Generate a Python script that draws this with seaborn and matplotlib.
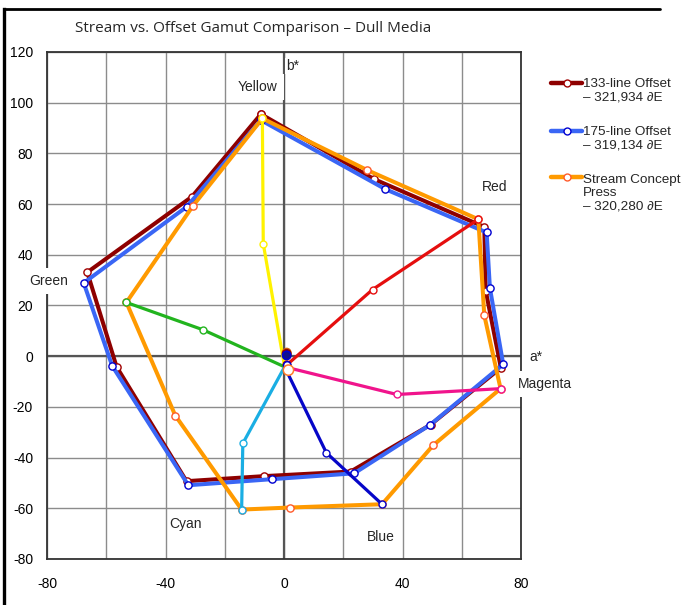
import matplotlib
matplotlib.use("Agg")
import matplotlib.pyplot as plt
from matplotlib.lines import Line2D
from matplotlib.legend_handler import HandlerLine2D
import seaborn as sns
import numpy as np
import pandas as pd

# ---- gamut outlines (a*, b*), closed back to the first vertex when drawn ----
offset133_a = [-7.8, -31.1, -66.4, -56.5, -32.9, -6.6, 22.5, 49.5, 73.2, 68.1, 67.6, 30.5]
offset133_b = [95.5, 62.9, 33.1, -4.2, -49.3, -47.3, -45.5, -27.0, -4.6, 25.8, 51.0, 69.8]

offset175_a = [-7.8, -32.9, -67.6, -58.0, -32.3, -3.9, 23.7, 49.3, 74.0, 69.5, 68.4, 34.2]
offset175_b = [93.1, 58.9, 28.9, -3.8, -50.9, -48.5, -46.2, -27.1, -3.2, 26.9, 48.8, 65.9]

stream_a = [-7.3, -30.8, -53.2, -36.7, -14.3, 1.9, 33.1, 50.3, 73.1, 67.6, 65.6, 28.1]
stream_b = [93.8, 59.2, 21.2, -23.4, -60.5, -59.7, -58.4, -35.2, -12.8, 16.2, 54.0, 73.4]

# ---- hue ramps of the Stream press: paper -> 50% -> 100% ----
paper_a, paper_b = 0.2, -4.2
ramp_names = ["Yellow", "Green", "Red", "Magenta", "Cyan", "Blue"]
ramp_mid_a = [-7.0, -27.3, 29.9, 38.1, -13.9, 14.3]
ramp_mid_b = [44.4, 10.4, 26.3, -15.1, -34.4, -38.1]
ramp_end_a = [-7.3, -53.2, 65.6, 73.1, -14.3, 33.1]
ramp_end_b = [93.8, 21.2, 54.0, -12.8, -60.5, -58.4]
ramp_colors = ["#FFF200", "#22B41E", "#E50E0E", "#F0148C", "#1AAEE3", "#0606C8"]

# ---- black and paper points ----
black_a = [0.9, 0.9, 0.9]
black_b = [1.4, 0.9, 0.3]
paper_pts_a = [1.0, 1.1, 1.5]
paper_pts_b = [-3.4, -3.6, -5.5]

# ---- hue labels ----
label_text = ["Yellow", "Green", "Red", "Magenta", "Cyan", "Blue"]
label_a = [-8.8, -79.5, 71.2, 88.2, -33.1, 32.7]
label_b = [106.1, 29.6, 66.7, -11.0, -66.3, -71.4]
label_pad = [4.5, 4.5, 1, 4.5, 1, 1]

legend_labels = ["133-line Offset\n\u2013 321,934 \u2202E",
                 "175-line Offset\n\u2013 319,134 \u2202E",
                 "Stream Concept\nPress\n\u2013 320,280 \u2202E"]

x_ticks = [-80, -60, -40, -20, 0, 20, 40, 60, 80]
x_tick_labels = ["-80", "", "-40", "", "0", "", "40", "", "80"]
y_ticks = [-80, -60, -40, -20, 0, 20, 40, 60, 80, 100, 120]
y_tick_labels = ["-80", "-60", "-40", "-20", "0", "20", "40", "60", "80", "100", "120"]

sns.set_style("white")
plt.rcParams["font.family"] = ["Liberation Sans", "DejaVu Sans"]

fig = plt.figure(figsize=(6.91, 6.05), dpi=100)
ax = fig.add_axes([47 / 691, 1 - 559 / 605, (521 - 47) / 691, (559 - 52) / 605])


def closed(seq):
    return list(seq) + [seq[0]]


series = [
    (offset133_a, offset133_b, "#8E0000", "#A00000"),
    (offset175_a, offset175_b, "#3A66F5", "#0000D0"),
    (stream_a, stream_b, "#FF9A00", "#FF5A2A"),
]
for a, b, line_c, edge_c in series:
    df = pd.DataFrame({"a": closed(a), "b": closed(b)})
    sns.lineplot(data=df, x="a", y="b", sort=False, estimator=None, ax=ax,
                 color=line_c, linewidth=2.9, marker="o", markersize=5.2,
                 markerfacecolor="white", markeredgecolor=edge_c,
                 markeredgewidth=1.0, zorder=3)

for i, name in enumerate(ramp_names):
    df = pd.DataFrame({"a": [paper_a, ramp_mid_a[i], ramp_end_a[i]],
                       "b": [paper_b, ramp_mid_b[i], ramp_end_b[i]]})
    sns.lineplot(data=df, x="a", y="b", sort=False, estimator=None, ax=ax,
                 color=ramp_colors[i], linewidth=2.3, marker="o", markersize=5,
                 markerfacecolor="white", markeredgecolor=ramp_colors[i],
                 markeredgewidth=1.0, markevery=[1, 2], zorder=4)

sns.scatterplot(x=black_a, y=black_b, ax=ax, s=36,
                color=["#7A3A00", "#4A0000", "#10108A"],
                edgecolor=["#D06010", "#8E0000", "#0000D0"], linewidth=1.2, zorder=5)
sns.scatterplot(x=paper_pts_a, y=paper_pts_b, ax=ax, s=[28, 28, 55],
                color="white", edgecolor=["#A00000", "#0000D0", "#FF7A2A"],
                linewidth=1.1, zorder=5)

ax.set_xlim(-80, 80)
ax.set_ylim(-80, 120)
ax.set_xticks(x_ticks)
ax.set_xticklabels(x_tick_labels)
ax.set_yticks(y_ticks)
ax.set_yticklabels(y_tick_labels)
ax.tick_params(axis="both", length=0, labelsize=10, colors="black")
ax.tick_params(axis="x", pad=13)
ax.tick_params(axis="y", pad=10)
ax.set_xlabel("")
ax.set_ylabel("")
ax.grid(True, color="#8C8C8C", linewidth=1.0, zorder=0)
ax.set_axisbelow(True)
for s in ax.spines.values():
    s.set_color("#333333")
    s.set_linewidth(1.3)
ax.axhline(0, color="#555555", linewidth=1.6, zorder=1)
ax.axvline(0, color="#555555", linewidth=1.6, zorder=1)

for t, a, b, p in zip(label_text, label_a, label_b, label_pad):
    ax.text(a, b, t, fontsize=10, ha="center", va="center", zorder=6, clip_on=False,
            bbox=dict(facecolor="white", edgecolor="none", pad=p))
ax.text(0.9, 114.5, "b*", fontsize=10, ha="left", va="center", zorder=6,
        bbox=dict(facecolor="white", edgecolor="none", pad=1))
ax.text(82.7, -0.4, "a*", fontsize=10, ha="left", va="center", zorder=6, clip_on=False)

LEG_LINESPACING = 1.15


class FirstLineHandler(HandlerLine2D):
    """Legend handle that sits level with the first line of a multi-line label."""

    def __init__(self, n_lines, **kw):
        super().__init__(**kw)
        self.n_lines = n_lines

    def create_artists(self, legend, orig_handle, xdescent, ydescent, width,
                       height, fontsize, trans):
        arts = super().create_artists(legend, orig_handle, xdescent, ydescent,
                                      width, height, fontsize, trans)
        shift = 0.5 * (self.n_lines - 1) * LEG_LINESPACING * fontsize
        for art in arts:
            art.set_ydata(np.asarray(art.get_ydata(), dtype=float) + shift)
        return arts


leg_fs = 9.7
handles = [Line2D([], [], color=c, linewidth=3.2, marker="o", markersize=5,
                  markerfacecolor="white", markeredgecolor=e, markeredgewidth=1.0)
           for _, _, c, e in series]
handler_map = {h: FirstLineHandler(lbl.count("\n") + 1)
               for h, lbl in zip(handles, legend_labels)}
leg = fig.legend(handles, legend_labels, loc="upper left",
                 bbox_to_anchor=(543 / 691, 1 - 70 / 605), frameon=False,
                 fontsize=leg_fs, handlelength=2.3, handletextpad=0.07,
                 labelspacing=1.66, borderpad=0.3, borderaxespad=0.3,
                 handler_map=handler_map)
for txt in leg.get_texts():
    txt.set_linespacing(LEG_LINESPACING)

fig.text(253 / 691, 1 - 28 / 605, "Stream vs. Offset Gamut Comparison \u2013 Dull Media",
         family=["Open Sans", "DejaVu Sans"], fontsize=11.0, ha="center", va="center")

# page frame: left edge and top edge
top = 1 - 9 / 605
fig.add_artist(Line2D([4 / 691, 4 / 691], [0, top], transform=fig.transFigure,
                      color="black", linewidth=2.4, solid_capstyle="projecting"))
fig.add_artist(Line2D([4 / 691, 660 / 691], [top, top], transform=fig.transFigure,
                      color="black", linewidth=2.0))

fig.savefig("out.png", dpi=100)
